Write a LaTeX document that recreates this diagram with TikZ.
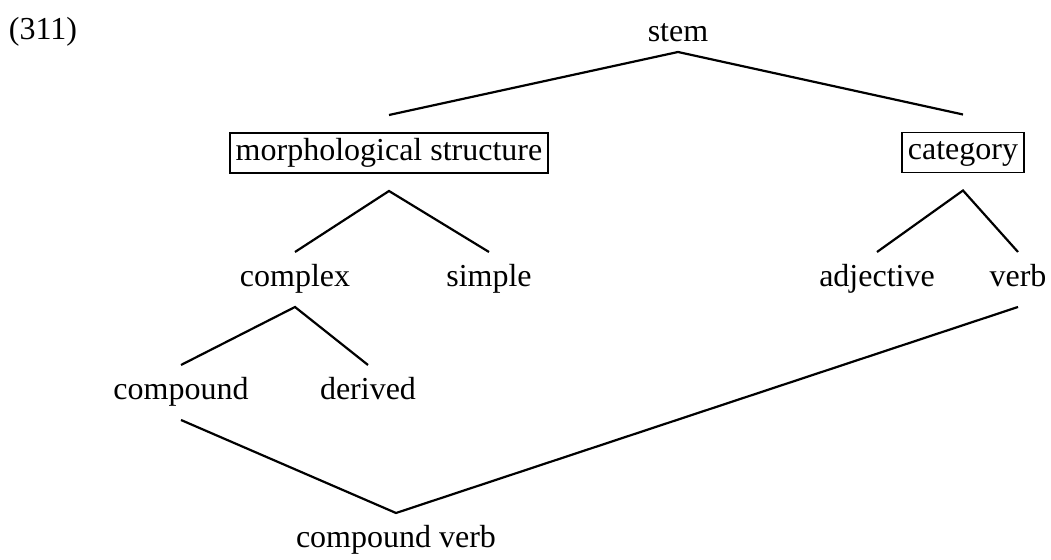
\documentclass[tikz,border=0pt]{standalone}
\usepackage{fontspec}
\setmainfont{Liberation Serif}

\tikzset{
  word/.style={inner sep=0pt,outer ysep=6.5pt,text height=11pt,text depth=3.5pt,anchor=base},
  feature/.style={draw,line width=0.8pt,inner xsep=3pt,inner ysep=2.75pt,outer ysep=9pt,text height=11pt,text depth=3.5pt},
  branch/.style={line width=1.1pt}
}

\begin{document}
\begin{tikzpicture}[x=0.5pt,y=-0.5pt,font=\fontsize{16}{19}\selectfont]
    \useasboundingbox (0,0) rectangle (1051,560);

    \node[word] (ex) at (43,40) {(311)};
    \node[word,outer ysep=1.5pt] (stem) at (678,42) {stem};

    % boxed features
    \node[feature] (morph) at (389,153) {morphological structure};
    \node[feature] (cat) at (963,152.5) {category};

    \node[word] (cplx) at (295,287) {complex};
    \node[word] (simp) at (489,287) {simple};
    \node[word] (adj) at (877,287) {adjective};
    \node[word] (verb) at (1018,287) {verb};
    \node[word] (comp) at (181,400) {compound};
    \node[word] (der) at (368,400) {derived};
    \node[word] (cv) at (396,548) {compound verb};

    \draw[branch] (morph.north) -- (stem.south) -- (cat.north);
    \draw[branch] (cplx.north) -- (morph.south) -- (simp.north);
    \draw[branch] (adj.north) -- (cat.south) -- (verb.north);
    \draw[branch] (comp.north) -- (cplx.south) -- (der.north);
    \draw[branch] (comp.south) -- (cv.north) -- (verb.south);

\end{tikzpicture}
\end{document}
